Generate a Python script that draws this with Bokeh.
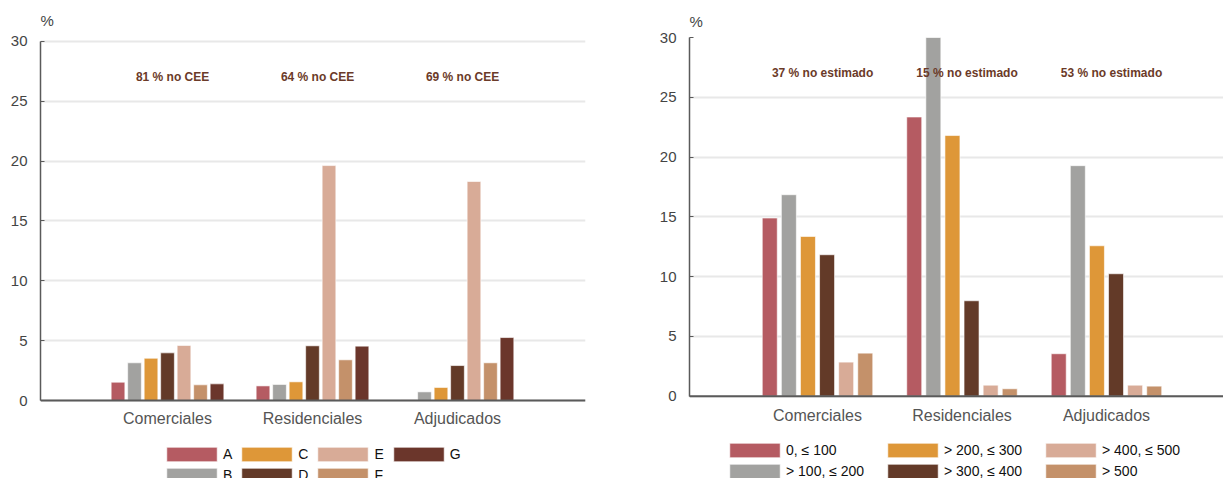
from bokeh.plotting import figure
from bokeh.models import Range1d, FixedTicker, Legend, LegendItem, Title, ColumnDataSource, Span
from bokeh.layouts import row
from bokeh.embed import file_html
from bokeh.resources import INLINE
from bokeh.core.properties import value
from bokeh.transform import dodge

# ---------------- data ----------------
groups = ["Comerciales", "Residenciales", "Adjudicados"]

cee_classes = ["A", "B", "C", "D", "E", "F", "G"]
cee_A = [1.53, 1.22, 0.05]
cee_B = [3.15, 1.34, 0.72]
cee_C = [3.53, 1.56, 1.09]
cee_D = [3.98, 4.57, 2.92]
cee_E = [4.60, 19.63, 18.30]
cee_F = [1.31, 3.40, 3.15]
cee_G = [1.39, 4.54, 5.26]
cee_notes = ["81 % no CEE", "64 % no CEE", "69 % no CEE"]

cons_classes = ["0, ≤ 100", "> 100, ≤ 200", "> 200, ≤ 300", "> 300, ≤ 400", "> 400, ≤ 500", "> 500"]
cons_1 = [14.90, 23.35, 3.55]
cons_2 = [16.85, 30.00, 19.28]
cons_3 = [13.36, 21.80, 12.58]
cons_4 = [11.83, 7.98, 10.24]
cons_5 = [2.85, 0.92, 0.92]
cons_6 = [3.60, 0.62, 0.84]
cons_notes = ["37 % no estimado", "15 % no estimado", "53 % no estimado"]

y_ticks = [0, 5, 10, 15, 20, 25, 30]

cee_colors = ["#b55b62", "#a2a2a0", "#de9738", "#633a28", "#d8ab97", "#c4916a", "#6b362b"]
cons_colors = ["#b55b62", "#a2a2a0", "#de9738", "#633a28", "#d8ab97", "#c4916a"]

FONT = "Liberation Sans"
NOTE_Y = 27


def make_chart(names, series, colors, notes, x_start, x_end, y_start, y_end, frame_w,
               bl, br, bar_w, step, title_standoff, cat_offset, leg_loc, leg_label_w):
    idx = list(range(len(groups)))
    data = {"x": idx, "y0": [0] * len(idx), "g": groups,
            "ny": [NOTE_Y] * len(notes), "t": notes}
    for i, s in enumerate(series):
        data["s%d" % i] = s
    src = ColumnDataSource(data)

    p = figure(frame_width=frame_w, frame_height=441,
               min_border_left=bl, min_border_right=br,
               min_border_top=37, min_border_bottom=0,
               x_range=Range1d(x_start, x_end), y_range=Range1d(y_start, y_end),
               x_axis_location=None,
               output_backend="svg", toolbar_location=None,
               background_fill_color="white", border_fill_color="white")
    p.outline_line_color = None

    # grid
    p.xgrid.grid_line_color = None
    p.ygrid.ticker = FixedTicker(ticks=y_ticks)
    p.ygrid.grid_line_color = "#e8e8e8"
    p.ygrid.grid_line_width = 2

    n = len(series)
    items = []
    for i in range(n):
        off = (i - (n - 1) / 2) * step
        r = p.vbar(x=dodge("x", off, range=p.x_range), top="s%d" % i, bottom=0,
                   width=bar_w, source=src, fill_color=colors[i], line_color="white",
                   line_alpha=0.6, line_width=1)
        items.append(LegendItem(label=names[i], renderers=[r]))

    # zero line (category axis)
    p.add_layout(Span(location=0, dimension="width", line_color="#5a5a5a", line_width=2))
    # category labels under the zero line
    p.text(x="x", y="y0", text="g", source=src, y_offset=cat_offset,
           text_align="center", text_baseline="middle",
           text_font=value(FONT), text_font_size="16px", text_color="#555555")

    # notes
    p.text(x=dodge("x", 0.035, range=p.x_range), y="ny", text="t", source=src,
           text_align="center", text_baseline="middle",
           text_font=value(FONT), text_font_style="bold", text_font_size="12px",
           text_color="#6b3a28")

    # y axis
    p.yaxis.ticker = FixedTicker(ticks=y_ticks)
    p.yaxis.bounds = (0, 30)
    p.yaxis.major_label_text_font = FONT
    p.yaxis.major_label_text_font_size = "15px"
    p.yaxis.major_label_text_color = "#444444"
    p.yaxis.major_label_standoff = 13
    p.yaxis.axis_line_color = "#5a5a5a"
    p.yaxis.axis_line_width = 1.5
    p.yaxis.major_tick_in = 4
    p.yaxis.major_tick_out = 0
    p.yaxis.major_tick_line_color = "#5a5a5a"
    p.yaxis.minor_tick_line_color = None

    t = Title(text="%", align="left", text_font=FONT, text_font_size="15px",
              text_font_style="normal", text_color="#444444", standoff=title_standoff)
    p.add_layout(t, "above")

    leg = Legend(items=items, orientation="vertical", nrows=2, location=leg_loc,
                 glyph_width=63, glyph_height=18, label_standoff=0, spacing=3,
                 padding=0, margin=0, border_line_color=None,
                 background_fill_alpha=0, label_text_font=FONT,
                 label_text_font_size="14px", label_text_color="#111111",
                 label_width=leg_label_w, label_height=15)
    p.add_layout(leg)
    return p


p1 = make_chart(cee_classes, [cee_A, cee_B, cee_C, cee_D, cee_E, cee_F, cee_G],
                cee_colors, cee_notes, -0.876, 2.883, -6.518, 30.334, 545,
                40, 64, 0.0945, 0.1138, 17, 18, (120, -6), 9)
p2 = make_chart(cons_classes, [cons_1, cons_2, cons_3, cons_4, cons_5, cons_6],
                cons_colors, cons_notes, -0.886, 2.810, -6.884, 30.0, 534,
                40, 0, 0.1038, 0.1322, 16, 19, (34, -2), 92)

layout = row(p1, p2)
open("out.html", "w").write(file_html(layout, INLINE))
